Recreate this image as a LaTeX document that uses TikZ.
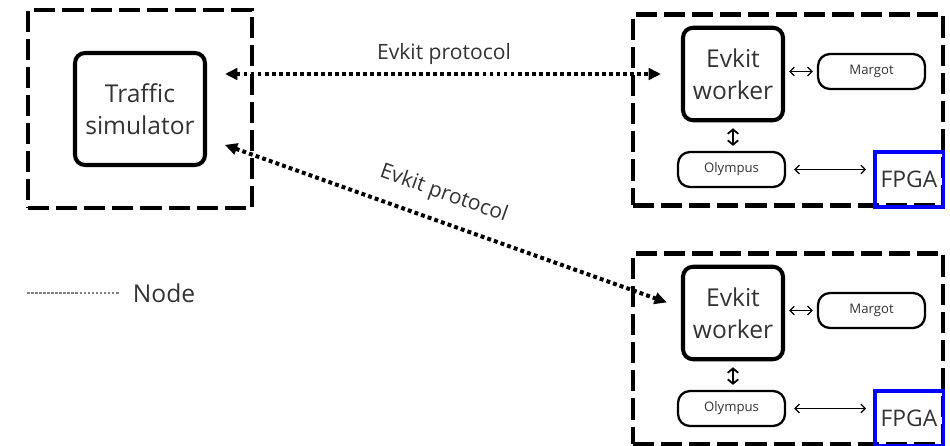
\documentclass[tikz,border=0pt]{standalone}
\usepackage{fontspec}
\setmainfont{Open Sans}
\usetikzlibrary{arrows.meta,positioning,calc}

\tikzset{
  hostbox/.style={draw, line width=2.7pt, dash pattern=on 12pt off 4pt},
  mainbox/.style={draw, line width=2.3pt, rounded corners=0.2cm, align=center,
    font=\fontsize{14}{18}\selectfont},
  subbox/.style={draw, line width=1.3pt, rounded corners=0.24cm,
    minimum width=2.14cm, minimum height=0.7cm, font=\fontsize{7.5}{9}\selectfont},
  fpgabox/.style={draw=blue, line width=1.9pt, minimum width=1.36cm,
    minimum height=1.1cm, font=\fontsize{13}{15}\selectfont},
  proto/.style={line width=2.3pt, dash pattern=on 2.2pt off 1.8pt,
    {Triangle[length=7pt,width=6.5pt]}-{Triangle[length=7pt,width=6.5pt]}},
  link/.style={line width=0.7pt,
    {Straight Barb[length=2.5pt,width=5pt]}-{Straight Barb[length=2.5pt,width=5pt]}},
  vlink/.style={line width=1pt,
    {Straight Barb[length=2.5pt,width=6pt]}-{Straight Barb[length=2.5pt,width=6pt]}},
  protolabel/.style={font=\fontsize{12}{14}\selectfont}
}

\begin{document}
\begin{tikzpicture}[x=0.02cm, y=-0.02cm, text=black!80]
\useasboundingbox (0,0) rectangle (950,446);
% Simulator host
\node[hostbox, minimum width=4.48cm, minimum height=3.96cm] (host) at (140,109) {};
\node[mainbox, minimum width=2.6cm, minimum height=2.24cm] (sim) at (140,109) {Traffic\\simulator};
% Worker hosts
\foreach \i/\dy in {1/0, 2/239} {
  \node[hostbox, minimum width=6.2cm, minimum height=3.82cm] (host\i) at (788,110+\dy) {};
  \node[mainbox, minimum width=2cm, minimum height=1.85cm] (w\i) at (733,74+\dy) {Evkit\\worker};
  \node[subbox] (m\i) at (871.5,71.5+\dy) {Margot};
  \node[subbox] (o\i) at (731.5,169.5+\dy) {Olympus};
  \node[fpgabox] (f\i) at (909,179.5+\dy) {FPGA};
  \draw[link, shorten <=0.08cm, shorten >=0.08cm] (w\i.east |- m\i.west) -- (m\i.west);
  \draw[vlink, shorten <=0.12cm, shorten >=0.1cm] (w\i.south) -- (w\i.south |- o\i.north);
  \draw[link, shorten <=0.16cm, shorten >=0.14cm] (o\i.east) -- (o\i.east -| f\i.west);
}
% Protocol links
\draw[proto, shorten <=0.36cm, shorten >=0.4cm] (sim.east |- w1.west) -- (w1.west)
  node[midway, above=1pt, protolabel] {Evkit protocol};
\draw[proto, shorten <=0.38cm, shorten >=0.3cm] ([yshift=-0.59cm]sim.east) -- ([yshift=0.11cm]w2.west)
  node[pos=0.48, above=5pt, sloped, protolabel] {Evkit protocol};
% Legend
\node[font=\fontsize{14}{16}\selectfont] (leg) at (164,293) {Node};
\coordinate (legstart) at (27,293);
\draw[gray, line width=0.6pt, dash pattern=on 1.5pt off 0.8pt, shorten >=0.14cm] (legstart) -- (leg.west);
\end{tikzpicture}
\end{document}
